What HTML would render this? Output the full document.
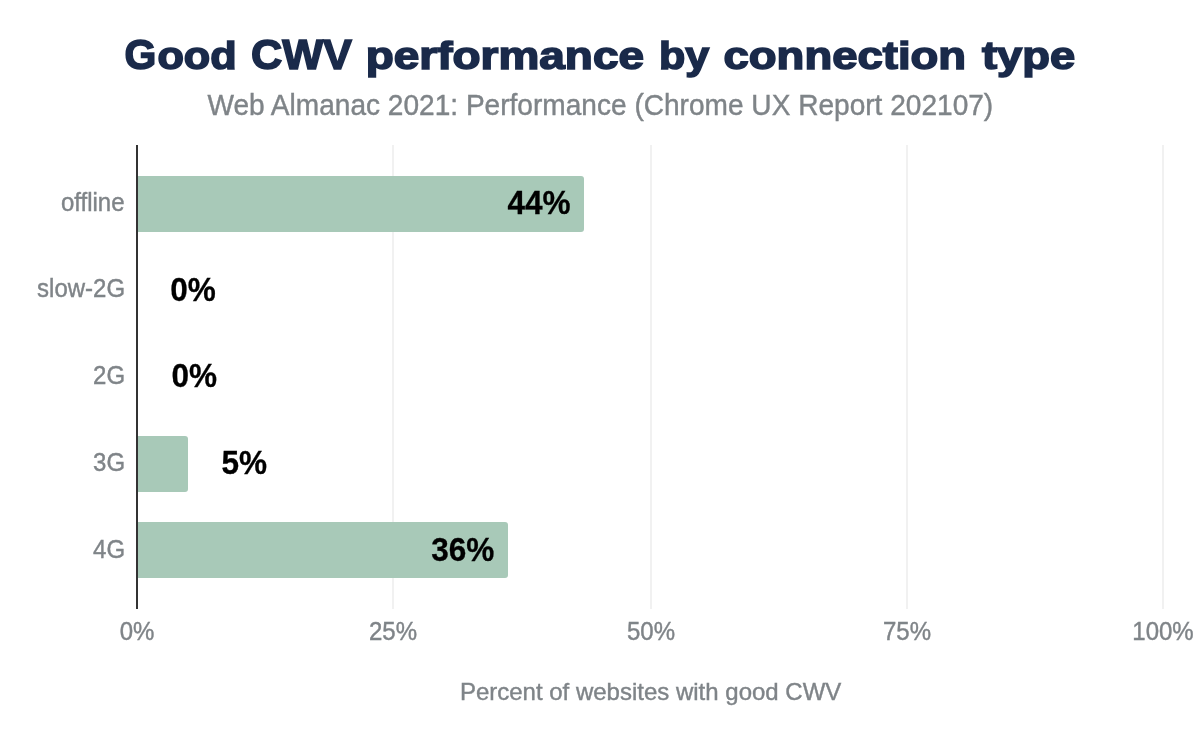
<!DOCTYPE html>
<html><head><meta charset="utf-8">
<style>
html,body{margin:0;padding:0;background:#fff;width:1200px;height:742px;overflow:hidden}
svg{display:block;will-change:transform}
text{font-family:"Liberation Sans",sans-serif}
</style></head><body>
<svg width="1200" height="742" viewBox="0 0 1200 742">
<rect width="1200" height="742" fill="#fff"/>
<text transform="translate(124.55 68.8) scale(0.9516 1.0)" font-size="43" font-weight="bold" fill="#1a2a4a" stroke="#1a2a4a" stroke-width="1.6">G</text>
<text transform="translate(157.39 68.8) scale(1.1087 1.0)" font-size="43" font-weight="bold" fill="#1a2a4a" stroke="#1a2a4a" stroke-width="1.6"><tspan font-size="39">o</tspan><tspan font-size="39">o</tspan><tspan font-size="39">d</tspan></text>
<text transform="translate(250.89 68.8) scale(1.0080 1.0)" font-size="43" font-weight="bold" fill="#1a2a4a" stroke="#1a2a4a" stroke-width="1.6">CWV</text>
<text transform="translate(365.64 68.8) scale(1.1784 1.0)" font-size="43" font-weight="bold" fill="#1a2a4a" stroke="#1a2a4a" stroke-width="1.6"><tspan font-size="39">p</tspan><tspan font-size="39">e</tspan><tspan font-size="39">r</tspan><tspan font-size="39">f</tspan><tspan font-size="39">o</tspan><tspan font-size="39">r</tspan><tspan font-size="39">m</tspan><tspan font-size="39">a</tspan><tspan font-size="39">n</tspan><tspan font-size="39">c</tspan><tspan font-size="39">e</tspan></text>
<text transform="translate(658.99 68.8) scale(1.1045 1.0)" font-size="43" font-weight="bold" fill="#1a2a4a" stroke="#1a2a4a" stroke-width="1.6"><tspan font-size="39">b</tspan><tspan font-size="39">y</tspan></text>
<text transform="translate(723.53 68.8) scale(1.1665 1.0)" font-size="43" font-weight="bold" fill="#1a2a4a" stroke="#1a2a4a" stroke-width="1.6"><tspan font-size="39">c</tspan><tspan font-size="39">o</tspan><tspan font-size="39">n</tspan><tspan font-size="39">n</tspan><tspan font-size="39">e</tspan><tspan font-size="39">c</tspan><tspan font-size="39">t</tspan><tspan font-size="39">i</tspan><tspan font-size="39">o</tspan><tspan font-size="39">n</tspan></text>
<text transform="translate(982.00 68.8) scale(1.1625 1.0)" font-size="43" font-weight="bold" fill="#1a2a4a" stroke="#1a2a4a" stroke-width="1.6"><tspan font-size="39">t</tspan><tspan font-size="39">y</tspan><tspan font-size="39">p</tspan><tspan font-size="39">e</tspan></text>
<text transform="translate(600.3 114.8) scale(1.003 1.05)" text-anchor="middle" font-size="28" font-weight="normal" fill="#7f8488" stroke="#7f8488" stroke-width="0.4">Web Almanac 2021: Performance (Chrome UX Report 202107)</text>
<g fill="#f1f1f1">
<rect x="392" y="145" width="2" height="464"/>
<rect x="650" y="145" width="2" height="464"/>
<rect x="906" y="145" width="2" height="464"/>
<rect x="1162" y="145" width="2" height="464"/>
</g>
<g fill="#a8c9b8">
<path d="M137 176 H581 Q584 176 584 179 V229 Q584 232 581 232 H137 Z"/>
<path d="M137 436 H185 Q188 436 188 439 V489 Q188 492 185 492 H137 Z"/>
<path d="M137 522 H505 Q508 522 508 525 V575 Q508 578 505 578 H137 Z"/>
</g>
<rect x="136" y="145" width="2" height="464" fill="#333"/>
<text transform="translate(124.5 210.9) scale(1.0 1.055)" text-anchor="end" font-size="24" font-weight="normal" fill="#7f8488" stroke="#7f8488" stroke-width="0.4">offline</text>
<text transform="translate(125.1 296.9) scale(1.0 1.055)" text-anchor="end" font-size="24" font-weight="normal" fill="#7f8488" stroke="#7f8488" stroke-width="0.4">slow-2G</text>
<text transform="translate(125.1 383.6) scale(1.0 1.055)" text-anchor="end" font-size="24" font-weight="normal" fill="#7f8488" stroke="#7f8488" stroke-width="0.4">2G</text>
<text transform="translate(125.1 470.6) scale(1.0 1.055)" text-anchor="end" font-size="24" font-weight="normal" fill="#7f8488" stroke="#7f8488" stroke-width="0.4">3G</text>
<text transform="translate(125.1 557.5) scale(1.0 1.055)" text-anchor="end" font-size="24" font-weight="normal" fill="#7f8488" stroke="#7f8488" stroke-width="0.4">4G</text>
<text transform="translate(570.5 214.3) scale(0.985 1.05)" text-anchor="end" font-size="32" font-weight="bold" fill="#000" stroke="#000" stroke-width="0.3">44%</text>
<text transform="translate(170.2 300.7) scale(0.985 1.05)" text-anchor="start" font-size="32" font-weight="bold" fill="#000" stroke="#000" stroke-width="0.3">0%</text>
<text transform="translate(171.6 386.7) scale(0.985 1.05)" text-anchor="start" font-size="32" font-weight="bold" fill="#000" stroke="#000" stroke-width="0.3">0%</text>
<text transform="translate(221.5 474.3) scale(0.985 1.05)" text-anchor="start" font-size="32" font-weight="bold" fill="#000" stroke="#000" stroke-width="0.3">5%</text>
<text transform="translate(494.3 560.8) scale(0.985 1.05)" text-anchor="end" font-size="32" font-weight="bold" fill="#000" stroke="#000" stroke-width="0.3">36%</text>
<text transform="translate(137 640.2) scale(1.0 1.04)" text-anchor="middle" font-size="24" font-weight="normal" fill="#7f8488" stroke="#7f8488" stroke-width="0.4">0%</text>
<text transform="translate(393 640.2) scale(1.0 1.04)" text-anchor="middle" font-size="24" font-weight="normal" fill="#7f8488" stroke="#7f8488" stroke-width="0.4">25%</text>
<text transform="translate(651 640.2) scale(1.0 1.04)" text-anchor="middle" font-size="24" font-weight="normal" fill="#7f8488" stroke="#7f8488" stroke-width="0.4">50%</text>
<text transform="translate(907 640.2) scale(1.0 1.04)" text-anchor="middle" font-size="24" font-weight="normal" fill="#7f8488" stroke="#7f8488" stroke-width="0.4">75%</text>
<text transform="translate(1163 640.2) scale(1.0 1.04)" text-anchor="middle" font-size="24" font-weight="normal" fill="#7f8488" stroke="#7f8488" stroke-width="0.4">100%</text>
<text transform="translate(650.6 699.8) scale(1.0 1.02)" text-anchor="middle" font-size="24" font-weight="normal" fill="#7f8488" stroke="#7f8488" stroke-width="0.4">Percent of websites with good CWV</text>
</svg>
</body></html>
